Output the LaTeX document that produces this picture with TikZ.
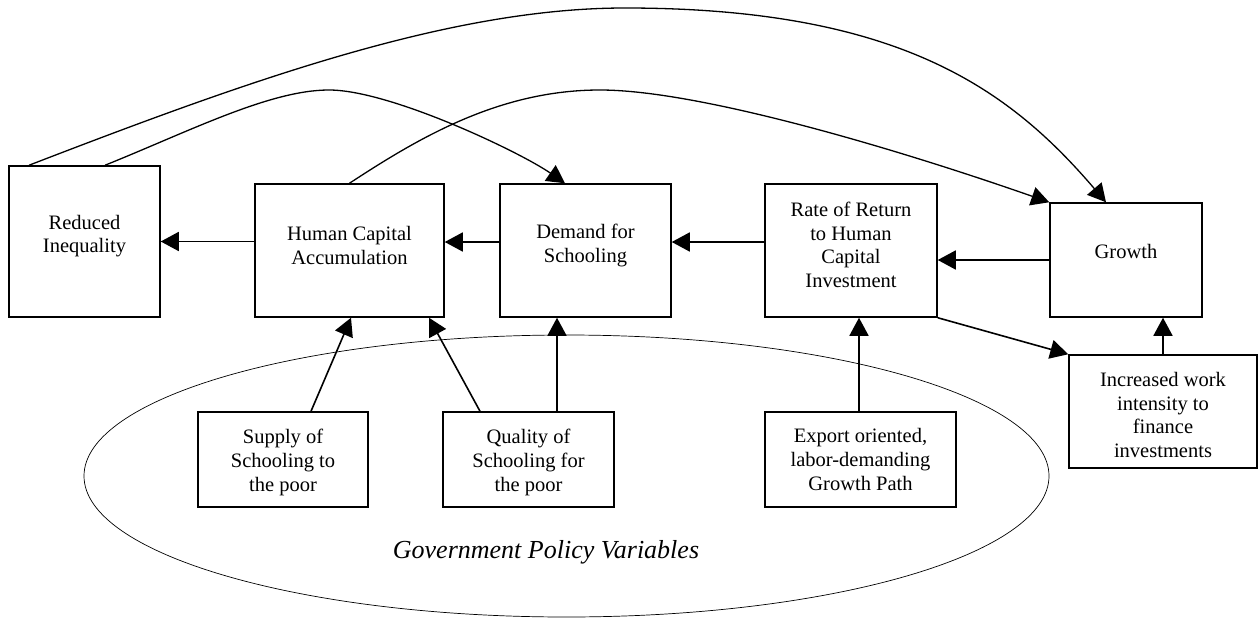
\documentclass[tikz,border=0pt]{standalone}
\usepackage{fontspec}
\setmainfont{Liberation Serif}
\usetikzlibrary{arrows.meta,shapes.geometric}
\begin{document}
\begin{tikzpicture}[x=1pt,y=-1pt,
  box/.style={draw, line width=1.5pt, inner sep=0pt},
  lbl/.style={align=center, font=\fontsize{20.5}{23.7}\selectfont, inner sep=0pt},
  arr/.style={line width=1.6pt, -{Triangle[length=18pt,width=19pt]}},
  crv/.style={line width=1.3pt, -{Triangle[length=18pt,width=19pt]}}]
\useasboundingbox (0,0) rectangle (1259,621);
% policy ellipse
\node[ellipse, draw, line width=0.7pt, minimum width=965pt, minimum height=282pt, inner sep=0pt] (pol) at (566.5,476) {};
\node[font=\itshape\fontsize{26}{30}\selectfont, inner sep=0pt] (polt) at (546,552) {Government Policy Variables};
% boxes
\node[box, minimum width=151pt, minimum height=151pt] (ri) at (84.5,241.5) {};
\node[box, minimum width=189pt, minimum height=133pt] (hca) at (349.5,250.5) {};
\node[box, minimum width=171pt, minimum height=133pt] (dfs) at (585.5,250.5) {};
\node[box, minimum width=172pt, minimum height=133pt] (ror) at (851,250.5) {};
\node[box, minimum width=152pt, minimum height=114pt] (gr) at (1126,260) {};
\node[box, minimum width=170pt, minimum height=95pt] (sup) at (283,459.5) {};
\node[box, minimum width=171pt, minimum height=95pt] (qual) at (528.5,459.5) {};
\node[box, minimum width=191pt, minimum height=95pt] (exp) at (860.5,459.5) {};
\node[box, minimum width=188pt, minimum height=113pt] (inc) at (1163,411.5) {};
% labels
\node[lbl] (ri-t) at (84.5,236) {Reduced\\Inequality};
\node[lbl] (hca-t) at (349.5,245.5) {Human Capital\\Accumulation};
\node[lbl] (dfs-t) at (585.5,245.5) {Demand for\\Schooling};
\node[lbl] (ror-t) at (851,245) {Rate of Return\\to Human\\Capital\\Investment};
\node[lbl] (gr-t) at (1126,251) {Growth};
\node[lbl] (sup-t) at (283,462.5) {Supply of\\Schooling to\\the poor};
\node[lbl] (qual-t) at (528.5,462.5) {Quality of\\Schooling for\\the poor};
\node[lbl] (exp-t) at (860.5,459.5) {Export oriented,\\labor-demanding\\Growth Path};
\node[lbl] (inc-t) at (1163,415) {Increased work\\intensity to\\finance\\investments};
% straight arrows
\draw[arr] ([yshift=9pt]hca.west) -- (ri.east);
\draw[arr] ([yshift=8.5pt]dfs.west) -- ([yshift=8.5pt]hca.east);
\draw[arr] ([yshift=8.5pt]ror.west) -- ([yshift=8.5pt]dfs.east);
\draw[arr] (gr.west) -- ([yshift=-9.5pt]ror.east);
\draw[arr] ([xshift=28pt]sup.north) -- ([xshift=1.5pt]hca.south);
\draw[arr] ([xshift=-48.5pt]qual.north) -- ([xshift=79.5pt]hca.south);
\draw[arr] ([xshift=28.5pt]qual.north) -- ([xshift=-28.5pt]dfs.south);
\draw[arr] ([xshift=-1.5pt]exp.north) -- ([xshift=8pt]ror.south);
\draw[arr] (ror.south east) -- (inc.north west);
\draw[arr] (inc.north) -- ([xshift=37pt]gr.south);
% curved arrows
\draw[crv] ([xshift=-55.5pt]ri.north) .. controls (250,80) and (450,8) .. (625,8) .. controls (900,8) and (1010,90) .. ([xshift=-20pt]gr.north);
\draw[crv] ([xshift=20.5pt]ri.north) .. controls (190,131) and (270,90) .. (329,90) .. controls (390,90) and (520,152) .. ([xshift=-20.5pt]dfs.north);
\draw[crv] (hca.north) .. controls (420,137) and (500,90) .. (600,90) .. controls (700,90) and (900,150) .. (gr.north west);
\end{tikzpicture}
\end{document}
